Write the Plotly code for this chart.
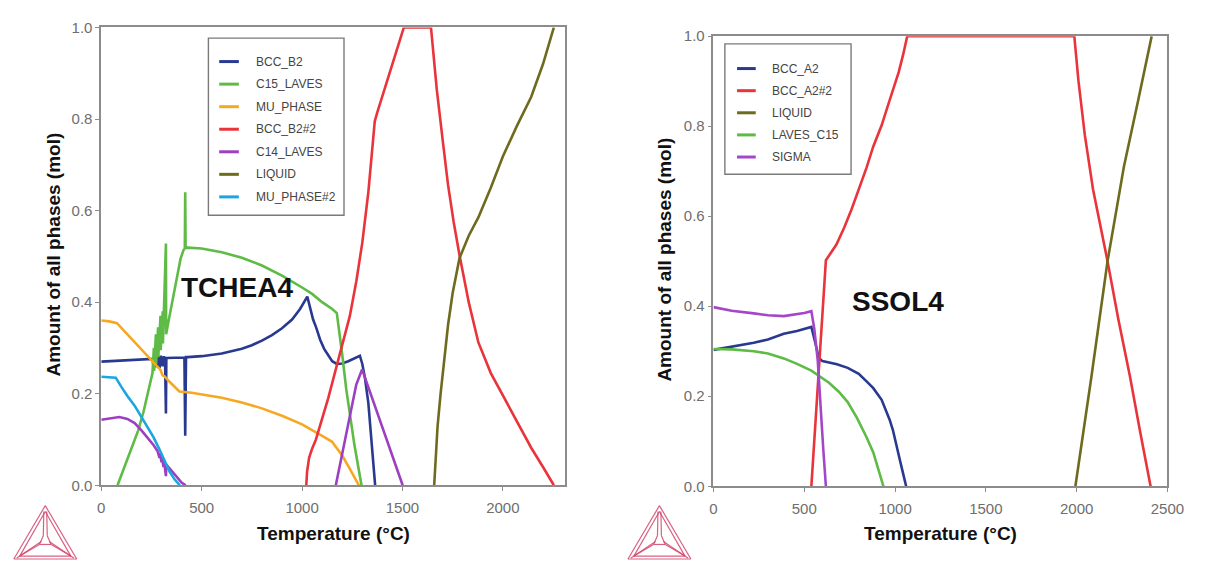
import plotly.graph_objects as go

W, H = 1211, 567
FONT = "Liberation Sans, Arial, sans-serif"

# ---------------- TCHEA4 (left) ----------------
tc_names = ["BCC_B2", "C15_LAVES", "MU_PHASE", "BCC_B2#2", "C14_LAVES", "LIQUID", "MU_PHASE#2"]
tc_colors = ["#2a3990", "#5dbb46", "#f7a823", "#e9343b", "#9c3fc1", "#6e6b1e", "#1aa6e0"]

bcc_b2_T = [0, 100, 200, 255, 262, 268, 275, 282, 290, 297, 305, 312, 318, 322, 324, 330, 380, 414, 418,
            422, 430, 500, 600, 700, 750, 800, 850, 900, 950, 990, 1026, 1040, 1055, 1070, 1090, 1110,
            1130, 1150, 1173, 1200, 1230, 1260, 1288, 1300, 1313, 1330, 1341, 1352, 1364]
bcc_b2_n = [0.270, 0.272, 0.274, 0.276, 0.255, 0.285, 0.258, 0.284, 0.256, 0.283, 0.260, 0.282, 0.262,
            0.157, 0.278, 0.278, 0.279, 0.279, 0.108, 0.280, 0.280, 0.282, 0.288, 0.298, 0.306, 0.316,
            0.328, 0.343, 0.362, 0.385, 0.412, 0.385, 0.362, 0.345, 0.318, 0.298, 0.283, 0.271, 0.265,
            0.266, 0.271, 0.277, 0.283, 0.265, 0.235, 0.180, 0.120, 0.060, 0.0]

c15_T = [81, 120, 150, 184, 210, 235, 255, 262, 263, 272, 273, 283, 284, 295, 296, 306, 307, 322, 323,
         340, 360, 380, 395, 410, 416, 418, 420, 430, 500, 600, 700, 800, 900, 1000, 1050, 1100, 1150,
         1173, 1185, 1200, 1220, 1240, 1260, 1280, 1296]
c15_n = [0.0, 0.045, 0.080, 0.120, 0.160, 0.205, 0.245, 0.300, 0.250, 0.330, 0.265, 0.345, 0.280, 0.370,
         0.295, 0.380, 0.310, 0.528, 0.330, 0.370, 0.415, 0.462, 0.495, 0.514, 0.517, 0.640, 0.518, 0.519,
         0.517, 0.509, 0.497, 0.480, 0.458, 0.432, 0.418, 0.400, 0.385, 0.376, 0.340, 0.285, 0.210,
         0.145, 0.090, 0.040, 0.0]

mu_T = [0, 40, 78, 120, 160, 200, 240, 280, 295, 305, 315, 340, 389, 450, 500, 600, 700, 750, 800, 900,
        1000, 1100, 1150, 1163, 1200, 1238, 1260, 1283]
mu_n = [0.360, 0.358, 0.354, 0.334, 0.315, 0.296, 0.277, 0.258, 0.252, 0.240, 0.238, 0.226, 0.205, 0.202,
        0.198, 0.191, 0.181, 0.175, 0.168, 0.152, 0.133, 0.108, 0.095, 0.087, 0.065, 0.036, 0.018, 0.0]

bcc_b2_2_T = [1021, 1025, 1035, 1050, 1069, 1100, 1130, 1163, 1200, 1238, 1270, 1300, 1330, 1350, 1362,
              1375, 1389, 1420, 1445, 1480, 1507, 1642, 1671, 1700, 1727, 1755, 1784, 1830, 1878, 1940,
              2000, 2070, 2141, 2200, 2254]
bcc_b2_2_n = [0.0, 0.030, 0.060, 0.080, 0.100, 0.145, 0.190, 0.245, 0.305, 0.370, 0.445, 0.530, 0.640,
              0.730, 0.795, 0.815, 0.835, 0.880, 0.917, 0.962, 1.0, 1.0, 0.864, 0.755, 0.656, 0.575,
              0.503, 0.400, 0.312, 0.245, 0.197, 0.140, 0.082, 0.040, 0.0]

c14_T = [0, 50, 90, 130, 166, 200, 230, 260, 280, 290, 292, 300, 302, 310, 312, 322, 324, 350, 380, 400,
         420, None, 1168, 1200, 1240, 1270, 1299, 1350, 1400, 1450, 1501]
c14_n = [0.143, 0.146, 0.149, 0.145, 0.136, 0.120, 0.105, 0.088, 0.075, 0.060, 0.070, 0.050, 0.062,
         0.040, 0.055, 0.020, 0.045, 0.032, 0.015, 0.006, 0.0, None, 0.0, 0.070, 0.160, 0.220, 0.253,
         0.190, 0.128, 0.064, 0.0]

liq_tc_T = [1658, 1665, 1675, 1690, 1710, 1727, 1750, 1784, 1830, 1878, 1940, 2000, 2070, 2141, 2200, 2254]
liq_tc_n = [0.0, 0.060, 0.130, 0.200, 0.290, 0.350, 0.420, 0.496, 0.545, 0.585, 0.650, 0.718, 0.785,
            0.848, 0.920, 1.0]

mu2_T = [0, 40, 72, 100, 130, 166, 200, 230, 260, 290, 316, 340, 365, 391]
mu2_n = [0.237, 0.236, 0.235, 0.215, 0.195, 0.174, 0.150, 0.128, 0.105, 0.078, 0.051, 0.030, 0.013, 0.0]

tc_T = [bcc_b2_T, c15_T, mu_T, bcc_b2_2_T, c14_T, liq_tc_T, mu2_T]
tc_n = [bcc_b2_n, c15_n, mu_n, bcc_b2_2_n, c14_n, liq_tc_n, mu2_n]

# ---------------- SSOL4 (right) ----------------
ss_names = ["BCC_A2", "BCC_A2#2", "LIQUID", "LAVES_C15", "SIGMA"]
ss_colors = ["#2a3990", "#e9343b", "#6e6b1e", "#5dbb46", "#a546c9"]

bcc_a2_T = [0, 100, 222, 300, 387, 460, 500, 539, 560, 580, 600, 619, 680, 739, 800, 843, 880, 926, 950,
            970, 988, 1010, 1029, 1045, 1061]
bcc_a2_n = [0.303, 0.310, 0.319, 0.326, 0.339, 0.345, 0.349, 0.354, 0.320, 0.285, 0.278, 0.276, 0.271,
            0.263, 0.250, 0.233, 0.218, 0.192, 0.170, 0.148, 0.125, 0.090, 0.054, 0.027, 0.0]

bcc_a2_2_T = [539, 619, 677, 720, 760, 800, 843, 880, 926, 960, 988, 1020, 1045, 1067, 1987, 2010, 2045,
              2090, 2130, 2170, 2230, 2293, 2350, 2407]
bcc_a2_2_n = [0.0, 0.502, 0.537, 0.575, 0.615, 0.660, 0.708, 0.755, 0.802, 0.845, 0.879, 0.920, 0.960,
              1.0, 1.0, 0.900, 0.780, 0.660, 0.580, 0.500, 0.370, 0.245, 0.120, 0.0]

liq_ss_T = [1993, 2080, 2170, 2260, 2340, 2413]
liq_ss_n = [0.0, 0.240, 0.500, 0.710, 0.860, 1.0]

laves_T = [0, 100, 222, 300, 387, 460, 539, 600, 636, 690, 739, 790, 843, 880, 910, 926, 936]
laves_n = [0.305, 0.304, 0.300, 0.295, 0.284, 0.272, 0.257, 0.240, 0.230, 0.210, 0.187, 0.152, 0.109,
           0.075, 0.035, 0.010, 0.0]

sigma_T = [0, 100, 222, 300, 387, 450, 500, 539, 555, 574, 590, 605, 619]
sigma_n = [0.398, 0.390, 0.384, 0.380, 0.378, 0.381, 0.385, 0.389, 0.350, 0.280, 0.170, 0.080, 0.0]

ss_T = [bcc_a2_T, bcc_a2_2_T, liq_ss_T, laves_T, sigma_T]
ss_n = [bcc_a2_n, bcc_a2_2_n, liq_ss_n, laves_n, sigma_n]

y_ticks = [0.0, 0.2, 0.4, 0.6, 0.8, 1.0]
tc_x_ticks = [0, 500, 1000, 1500, 2000]
ss_x_ticks = [0, 500, 1000, 1500, 2000, 2500]


def paper(px, py):
    """Pixel position on the page -> paper coordinates."""
    return px / W, 1 - py / H


fig = go.Figure()

for name, col, xs, ys in zip(tc_names, tc_colors, tc_T, tc_n):
    fig.add_trace(go.Scatter(x=xs, y=ys, name=name, mode="lines", showlegend=False,
                             line=dict(color=col, width=2.6), xaxis="x", yaxis="y"))
for name, col, xs, ys in zip(ss_names, ss_colors, ss_T, ss_n):
    fig.add_trace(go.Scatter(x=xs, y=ys, name=name, mode="lines", showlegend=False,
                             line=dict(color=col, width=2.6), xaxis="x2", yaxis="y2"))

AX_COL = "#8c8c8c"
TICK_FONT = dict(family=FONT, size=15, color="#6e6e6e")


def axis_style(**kw):
    d = dict(showline=True, mirror=True, linecolor=AX_COL, linewidth=1.6, showgrid=False,
             zeroline=False, ticks="outside", ticklen=4, tickwidth=1.2, tickcolor=AX_COL,
             tickfont=TICK_FONT)
    d.update(kw)
    return d


shapes = []
annotations = []

# plot frames (pixel boxes)
L_BOX = (99, 19, 571, 491)
R_BOX = (722, 28, 1184, 492)

layout = dict(
    width=W, height=H, margin=dict(l=0, r=0, t=0, b=0),
    paper_bgcolor="white", plot_bgcolor="white", showlegend=False,
    xaxis=axis_style(domain=[L_BOX[0] / W, L_BOX[2] / W], range=[0, 2310], tickvals=tc_x_ticks,
                     anchor="y", ticklabelstandoff=4),
    yaxis=axis_style(domain=[1 - L_BOX[3] / H, 1 - L_BOX[1] / H], range=[0, 1], tickvals=y_ticks,
                     tickformat=".1f", anchor="x"),
    xaxis2=axis_style(domain=[R_BOX[0] / W, R_BOX[2] / W], range=[0, 2500], tickvals=ss_x_ticks,
                      anchor="y2", ticklabelstandoff=4),
    yaxis2=axis_style(domain=[1 - R_BOX[3] / H, 1 - R_BOX[1] / H], range=[0, 1], tickvals=y_ticks,
                      tickformat=".1f", anchor="x2"),
)

TITLE_FONT = dict(family=FONT, size=19, color="#111111", weight="bold")

# axis titles
for cx, cy in [(335, 541), (953, 541)]:
    x, y = paper(cx, cy)
    annotations.append(dict(text="Temperature (°C)", x=x, y=y, xref="paper", yref="paper",
                            xanchor="center", yanchor="middle", showarrow=False, font=TITLE_FONT))
for cx, cy in [(50, 253), (672, 258)]:
    x, y = paper(cx, cy)
    annotations.append(dict(text="Amount of all phases (mol)", x=x, y=y, xref="paper", yref="paper",
                            xanchor="center", yanchor="middle", showarrow=False, textangle=-90,
                            font=TITLE_FONT))

# database labels inside the plots
annotations.append(dict(text="TCHEA4", x=677, y=0.433, xref="x", yref="y", showarrow=False,
                        xanchor="center", yanchor="middle",
                        font=dict(family=FONT, size=28, color="#111111", weight="bold")))
annotations.append(dict(text="SSOL4", x=1017, y=0.41, xref="x2", yref="y2", showarrow=False,
                        xanchor="center", yanchor="middle",
                        font=dict(family=FONT, size=28, color="#111111", weight="bold")))


def legend_box(box, names, colors, y0, dy, line_x, text_x):
    x0, y0p = paper(box[0], box[1])
    x1, y1p = paper(box[2], box[3])
    shapes.append(dict(type="rect", xref="paper", yref="paper", x0=x0, x1=x1, y0=y1p, y1=y0p,
                       line=dict(color="#7a7a7a", width=1.4), fillcolor="white", layer="above"))
    for i, (nm, col) in enumerate(zip(names, colors)):
        yy = y0 + i * dy
        a, b = paper(line_x[0], yy)
        c, _ = paper(line_x[1], yy)
        shapes.append(dict(type="line", xref="paper", yref="paper", x0=a, x1=c, y0=b, y1=b,
                           line=dict(color=col, width=3), layer="above"))
        tx, ty = paper(text_x, yy)
        annotations.append(dict(text=nm, x=tx, y=ty, xref="paper", yref="paper", xanchor="left",
                                yanchor="middle", showarrow=False,
                                font=dict(family=FONT, size=12, color="#444444")))


legend_box((208, 30, 346, 212.6), tc_names, tc_colors, 54.2, 23.25, (219, 239), 254)
legend_box((733.6, 36, 862, 170.4), ss_names, ss_colors, 61.4, 22.8, (746, 765), 780)


def logo(dx):
    """Triangular company mark drawn with thin lines."""
    col = "#d2466e"
    ax_, ay_ = 42 + dx, 512
    bl = (10 + dx, 567)
    br = (74 + dx, 567)
    c = (42 + dx, 549)
    segs = [((ax_, ay_), bl), (bl, br), (br, (ax_, ay_)),
            ((ax_, ay_ + 6), (bl[0] + 6, 564)), ((bl[0] + 6, 564), (br[0] - 6, 564)),
            ((br[0] - 6, 564), (ax_, ay_ + 6)),
            ((ax_ - 1.5, ay_ + 6), (c[0] - 2, c[1] - 6)), ((ax_ + 1.5, ay_ + 6), (c[0] + 2, c[1] - 6)),
            ((c[0] - 2, c[1] - 6), (c[0] - 6, c[1] + 3)), ((c[0] + 2, c[1] - 6), (c[0] + 6, c[1] + 3)),
            ((c[0] - 6, c[1] + 3), (c[0] + 6, c[1] + 3)),
            ((c[0] - 6, c[1] + 3), (bl[0] + 6, 564)), ((c[0] + 6, c[1] + 3), (br[0] - 6, 564)),
            ((c[0] - 4, c[1] + 0), (bl[0] + 3, 566)), ((c[0] + 4, c[1] + 0), (br[0] - 3, 566))]
    for p, q in segs:
        x0, y0 = paper(*p)
        x1, y1 = paper(*q)
        shapes.append(dict(type="line", xref="paper", yref="paper", x0=x0, y0=y0, x1=x1, y1=y1,
                           line=dict(color=col, width=1.2), opacity=0.85))


logo(0)
logo(625)

layout["shapes"] = shapes
layout["annotations"] = annotations
fig.update_layout(**layout)

fig.write_html("out.html")
